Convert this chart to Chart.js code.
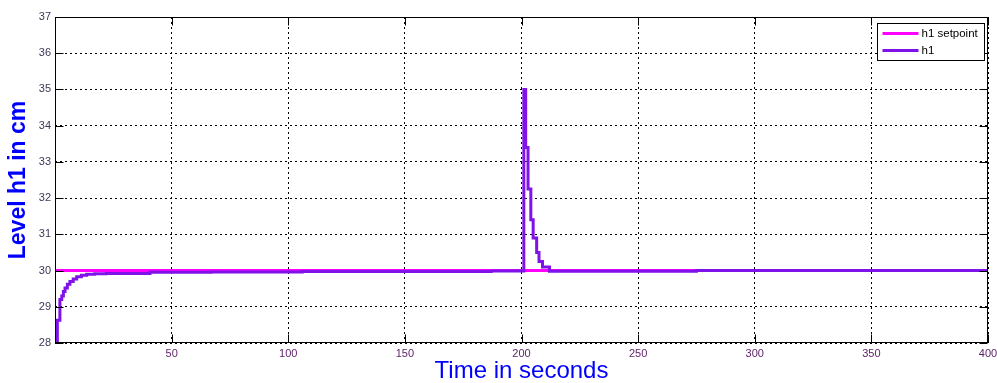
<!DOCTYPE html>
<html><head><meta charset="utf-8">
<script src="https://cdn.jsdelivr.net/npm/chart.js@4"></script>
<style>html,body{margin:0;padding:0;background:#fff;overflow:hidden;}</style>
</head><body>
<canvas id="c" width="997" height="383"></canvas>
<script>
// ---- data ----
const timeH1  = [0.9, 1.0, 2.1, 2.9, 3.6, 4.3, 5.3, 6.4, 7.8, 9.3, 11.3, 13.6, 17, 22, 40.7, 67, 106, 187,
                 201, 201.8, 202.8, 204, 205, 206.5, 207.5, 209, 212, 275, 400];
const levelH1 = [28.0, 28.63, 29.2, 29.3, 29.42, 29.52, 29.62, 29.7, 29.77, 29.83, 29.87, 29.9, 29.91, 29.92, 29.95, 29.96, 29.975, 29.99,
                 35.0, 33.4, 32.25, 31.4, 30.9, 30.5, 30.25, 30.1, 29.98, 30.0, 30.0];
const timeSetpoint  = [0, 400];
const levelSetpoint = [30, 30];
const seriesLabels = ['h1 setpoint', 'h1'];
const xRange = [0, 400, 50];
const yRange = [28, 37, 1];
const xTitle = 'Time in seconds';
const yTitle = 'Level h1 in cm';

const FONT = '"Liberation Sans", Arial, sans-serif';
const toXY = (xs, ys) => xs.map((x, i) => ({x: x, y: ys[i]}));

const framePlugin = {
  id: 'frame',
  afterDatasetsDraw(chart) {
    const {ctx, chartArea: a, scales} = chart;
    ctx.save();
    ctx.strokeStyle = '#000';
    ctx.lineWidth = 1;
    ctx.setLineDash([]);
    const L = Math.round(a.left) + 0.5, R = Math.round(a.right) - 0.5;
    const T = Math.round(a.top) + 0.5, B = Math.round(a.bottom) - 0.5;
    ctx.strokeRect(L, T, R - L, B - T);
    const tl = 8;
    ctx.beginPath();
    scales.x.ticks.forEach(t => {
      const px = Math.round(scales.x.getPixelForValue(t.value)) + 0.5;
      ctx.moveTo(px, B); ctx.lineTo(px, B - tl);
      ctx.moveTo(px, T); ctx.lineTo(px, T + tl);
    });
    scales.y.ticks.forEach(t => {
      const py = Math.round(scales.y.getPixelForValue(t.value)) + 0.5;
      ctx.moveTo(L, py); ctx.lineTo(L + tl, py);
      ctx.moveTo(R, py); ctx.lineTo(R - tl, py);
    });
    ctx.stroke();
    // legend box
    const bw = 107, bh = 37;
    const bx = Math.round(a.right) - 4 - bw + 0.5, by = Math.round(a.top) + 6 + 0.5;
    ctx.fillStyle = '#fff';
    ctx.fillRect(bx, by, bw, bh);
    ctx.strokeRect(bx, by, bw, bh);
    ctx.font = '11.5px ' + FONT;
    ctx.textBaseline = 'middle';
    ctx.textAlign = 'left';
    chart.data.datasets.forEach((ds, i) => {
      const yy = by + 10 + i * 17;
      ctx.strokeStyle = ds.borderColor;
      ctx.lineWidth = 3;
      ctx.beginPath();
      ctx.moveTo(bx + 5, yy); ctx.lineTo(bx + 41, yy);
      ctx.stroke();
      ctx.fillStyle = '#000';
      ctx.fillText(ds.label, bx + 44, yy);
    });
    ctx.restore();
  }
};

new Chart(document.getElementById('c'), {
  type: 'line',
  data: {
    datasets: [
      { label: seriesLabels[0], data: toXY(timeSetpoint, levelSetpoint), borderColor: '#ff00ff',
        borderWidth: 3, pointRadius: 0, order: 1 },
      { label: seriesLabels[1], data: toXY(timeH1, levelH1), borderColor: '#7f12e8',
        borderWidth: 3, pointRadius: 0, stepped: 'before', order: 0 }
    ]
  },
  options: {
    responsive: false,
    animation: false,
    devicePixelRatio: 1,
    layout: { padding: { left: 0, right: 9, top: 17, bottom: 0 } },
    plugins: { legend: { display: false }, tooltip: { enabled: false } },
    scales: {
      x: {
        type: 'linear', min: xRange[0], max: xRange[1],
        ticks: { stepSize: xRange[2], color: '#5e2468', font: { size: 11, family: FONT }, padding: 4,
                 maxRotation: 0, autoSkip: false, callback: v => (v === 0 ? '' : v) },
        grid: { color: '#000', lineWidth: 1, drawTicks: false },
        border: { display: false, dash: [2, 3] },
        title: { display: true, text: xTitle, color: '#0000ff',
                 font: { size: 24, family: FONT, lineHeight: 1 }, padding: 0 },
        afterFit: s => { s.height = 40; s.paddingLeft = 0; s.paddingRight = 0; }
      },
      y: {
        type: 'linear', min: yRange[0], max: yRange[1],
        ticks: { stepSize: yRange[2], color: '#3a3a58', font: { size: 11, family: FONT }, padding: 4 },
        grid: { color: '#000', lineWidth: 1, drawTicks: false },
        border: { display: false, dash: [2, 3] },
        title: { display: true, text: yTitle, color: '#0000ff',
                 font: { size: 23, weight: 'bold', family: FONT, lineHeight: 1 }, padding: 7 },
        afterFit: s => { s.width = 55; s.paddingTop = 0; s.paddingBottom = 0; }
      }
    }
  },
  plugins: [framePlugin]
});
</script>
</body></html>
